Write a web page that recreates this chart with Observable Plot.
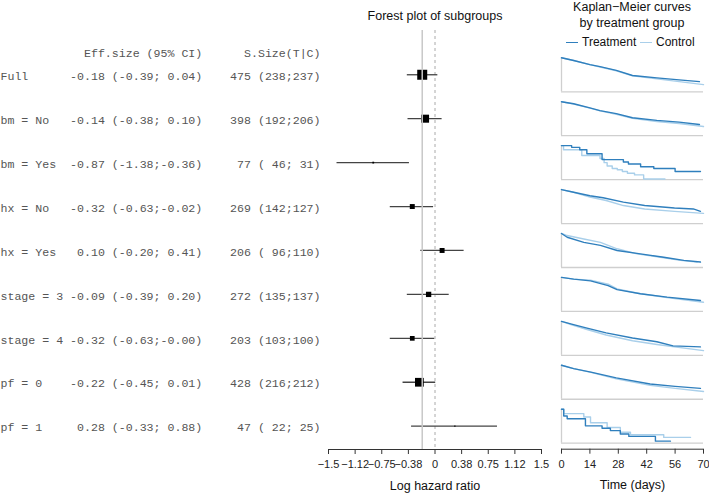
<!DOCTYPE html>
<html><head><meta charset="utf-8">
<script src="https://cdn.jsdelivr.net/npm/d3@7"></script>
<script src="https://cdn.jsdelivr.net/npm/@observablehq/plot@0.6"></script>
<style>
body{margin:0;background:#fff;}
#chart{position:relative;width:709px;height:495px;overflow:hidden;font-family:"Liberation Sans",Arial,sans-serif;}
#chart > svg{position:absolute;left:0;top:0;}
svg text{white-space:pre;}
.t{position:absolute;font-size:12.5px;color:#111;white-space:nowrap;transform:translate(-50%,-50%);}
.lg{position:absolute;top:42px;transform:translateY(-50%);font-size:12px;color:#111;white-space:nowrap;display:flex;align-items:center;}
.lg span.ln{display:inline-block;width:12px;height:0;border-top:1.6px solid;margin-right:4px;}
</style></head><body><div id="chart"></div>
<script>
// ---- Forest plot data ----
const labels = ["Full","bm = No","bm = Yes","hx = No","hx = Yes","stage = 3","stage = 4","pf = 0","pf = 1"];
const est = [-0.18,-0.14,-0.87,-0.32,0.10,-0.09,-0.32,-0.22,0.28];
const lo  = [-0.39,-0.38,-1.38,-0.63,-0.20,-0.39,-0.63,-0.45,-0.33];
const hi  = [0.04,0.10,-0.36,-0.02,0.41,0.20,-0.004,0.01,0.88];
const nAll = [475,398,77,269,206,272,203,428,47];
const nT = [238,192,46,142,96,135,103,216,22];
const nC = [237,206,31,127,110,137,100,212,25];
const colHeaders = ["Eff.size (95% CI)","S.Size(T|C)"];
const hrTicks = [-1.5,-1.125,-0.75,-0.375,0,0.375,0.75,1.125,1.5];
const hrTickLabels = ["\u22121.5","\u22121.12","\u22120.75","\u22120.38","0","0.38","0.75","1.12","1.5"];
const timeTicks = [0,14,28,42,56,70];

// ---- Kaplan-Meier curves [day, survival] ----
const kmFullT = [[0,1],[6,0.92],[14,0.80],[19,0.74],[27,0.63],[35,0.48],[47,0.41],[58,0.35],[68,0.30]];
const kmFullC = [[0,1],[6,0.92],[14,0.80],[19,0.73],[27,0.62],[35,0.47],[47,0.38],[58,0.30],[70,0.21]];
const kmBmNoT = [[0,1],[6,0.94],[14,0.82],[19,0.74],[27,0.65],[35,0.53],[47,0.45],[58,0.40],[68,0.33]];
const kmBmNoC = [[0,1],[6,0.93],[14,0.81],[19,0.73],[27,0.63],[35,0.51],[47,0.42],[58,0.36],[70,0.27]];
const kmBmYesT = [[0,1],[5,0.95],[9,0.88],[12.5,0.76],[20,0.59],[30.5,0.52],[33,0.46],[39,0.38],[45.5,0.33],[56,0.24],[68.5,0.24]];
const kmBmYesC = [[0,1],[1,0.88],[10,0.71],[19,0.62],[21,0.5],[22.5,0.4],[25,0.33],[27.5,0.29],[30,0.24],[32.5,0.19],[36,0.14],[40.5,0.02],[51,0.02]];
const kmHxNoT = [[0,1],[6,0.92],[14,0.82],[20.5,0.76],[30.5,0.63],[41,0.53],[55.7,0.46],[65,0.43],[68.5,0.36]];
const kmHxNoC = [[0,1],[6,0.92],[14,0.78],[22,0.68],[30.5,0.53],[41,0.43],[55.7,0.36],[70,0.30]];
const kmHxYesT = [[0,1],[2.8,0.89],[11,0.74],[19.2,0.65],[27.4,0.5],[38.9,0.40],[50.4,0.30],[60.3,0.21],[68.5,0.16]];
const kmHxYesC = [[0,1],[2.8,0.94],[11,0.84],[19.2,0.74],[27.4,0.55],[37.2,0.40],[48.8,0.30],[58.6,0.21],[66.8,0.16]];
const kmSt3T = [[0,1],[6,0.95],[14.3,0.9],[23,0.76],[27.4,0.64],[38.9,0.52],[52,0.42],[68.5,0.32]];
const kmSt3C = [[0,1],[6,0.95],[14.3,0.92],[23,0.8],[27.4,0.66],[38.9,0.52],[52,0.41],[70,0.27]];
const kmSt4T = [[0,1],[5,0.92],[12.6,0.8],[22,0.66],[35,0.51],[47,0.40],[55,0.28],[68.5,0.25]];
const kmSt4C = [[0,1],[5,0.9],[12.6,0.76],[22,0.6],[35,0.43],[47,0.32],[70,0.14]];
const kmPf0T = [[0,1],[6,0.9],[14.5,0.8],[27,0.63],[43.7,0.45],[56,0.38],[68.5,0.32]];
const kmPf0C = [[0,1],[6,0.9],[14.5,0.79],[27,0.6],[43.7,0.41],[56,0.32],[70,0.23]];
const kmPf1T = [[0,1],[1.1,0.8],[2.8,0.72],[11.8,0.51],[20,0.44],[24.1,0.37],[29,0.27],[33.2,0.2],[46.3,0.06],[53.7,0.06]];
const kmPf1C = [[0,1],[1.1,0.87],[11,0.77],[14.3,0.6],[22.5,0.46],[29,0.32],[34,0.25],[50.4,0.17],[63.6,0.17]];
const arms = ["Control","Treatment"];
const armColors = ["#a9cfea","#2f7fbd"];
const stepGroups = ["bm = Yes","pf = 1"];
const kmSeries = [
  ["Full",kmFullC,kmFullT],["bm = No",kmBmNoC,kmBmNoT],["bm = Yes",kmBmYesC,kmBmYesT],
  ["hx = No",kmHxNoC,kmHxNoT],["hx = Yes",kmHxYesC,kmHxYesT],["stage = 3",kmSt3C,kmSt3T],
  ["stage = 4",kmSt4C,kmSt4T],["pf = 0",kmPf0C,kmPf0T],["pf = 1",kmPf1C,kmPf1T]
];

// ---- build tables ----
const f2 = v => v.toFixed(2).padStart(5);
const rows = labels.map((label,i) => {
  const se = (hi[i]-lo[i])/(2*1.96);
  return {
    label, est: est[i], lo: lo[i], hi: hi[i], w: 1/(se*se),
    line: label.padEnd(10) + f2(est[i]) + " (" + f2(lo[i]) + ";" + f2(hi[i]) + ")    " +
          String(nAll[i]).padStart(3) + " (" + String(nT[i]).padStart(3) + ";" + String(nC[i]).padStart(3) + ")"
  };
});
const headerLine = " ".repeat(12) + colHeaders[0] + " ".repeat(6) + colHeaders[1];
const kmRows = [];
for (const [g, c, t] of kmSeries) {
  for (const [d, s] of c) kmRows.push({group: g, arm: arms[0], day: d, s});
  for (const [d, s] of t) kmRows.push({group: g, arm: arms[1], day: d, s});
}
const kmStep = kmRows.filter(d => stepGroups.includes(d.group));
const kmSmooth = kmRows.filter(d => !stepGroups.includes(d.group));

const H = 495, W = 709;
const yRow = {type: "point", domain: labels, padding: 0.769, align: 0.655, round: false, axis: null};
const baseStyle = {background: "transparent", fontFamily: "'Liberation Sans', Arial, sans-serif", fontSize: "11px", color: "#222", overflow: "visible"};
const mono = "'Liberation Mono', 'Courier New', monospace";
const chart = document.getElementById("chart");

// ---- left text table ----
const textPlot = Plot.plot({
  width: 330, height: H, marginLeft: 0, marginRight: 0, marginTop: 30, marginBottom: 46,
  style: baseStyle, y: yRow,
  marks: [
    Plot.text([headerLine], {text: d => d, frameAnchor: "top-left", textAnchor: "start", dy: 18, fontFamily: mono, fontSize: 11.6, fill: "#555"}),
    Plot.text(rows, {y: "label", text: "line", frameAnchor: "left", textAnchor: "start", dy: 1.5, fontFamily: mono, fontSize: 11.6, fill: "#555"})
  ]
});
chart.appendChild(textPlot);

// ---- forest plot ----
const tickLabelMap = new Map(hrTicks.map((t,i) => [t, hrTickLabels[i]]));
const forest = Plot.plot({
  width: W, height: H, marginLeft: 328, marginRight: 168, marginTop: 30, marginBottom: 46,
  style: baseStyle,
  x: {domain: [hrTicks[0], hrTicks[hrTicks.length-1]]},
  y: yRow,
  r: {type: "linear", domain: [0, d3.max(rows, d => d.w)], range: [0, 10/Math.sqrt(Math.PI)]},
  marks: [
    Plot.ruleX([0], {stroke: "#aaa", strokeDasharray: "3,3", strokeWidth: 1}),
    Plot.ruleY(rows, {y: "label", x1: "lo", x2: "hi", stroke: "#444", strokeWidth: 1.3}),
    Plot.dot(rows, {x: "est", y: "label", r: "w", symbol: "square", fill: "#000", stroke: null}),
    Plot.ruleX([est[0]], {stroke: "#c8c8c8", strokeWidth: 1.5}),
    Plot.frame({anchor: "bottom", stroke: "#333"}),
    Plot.axisX(hrTicks, {tickFormat: d => tickLabelMap.get(d), tickSize: 5, tickPadding: 6, label: null, fontSize: 11, stroke: "#333"}),
    Plot.text(["Forest plot of subgroups"], {text: d => d, frameAnchor: "top", dy: -19, fontSize: 12.5, fill: "#111"}),
    Plot.text(["Log hazard ratio"], {text: d => d, frameAnchor: "bottom", dy: 40, fontSize: 12.5, fill: "#111"})
  ]
});
chart.appendChild(forest);

// ---- Kaplan-Meier small multiples ----
const km = Plot.plot({
  width: W, height: H, marginLeft: 561, marginRight: 6, marginTop: 57.3, marginBottom: 46.3,
  style: baseStyle,
  x: {domain: [timeTicks[0], timeTicks[timeTicks.length-1]]},
  y: {domain: [0, 1], insetBottom: 6, axis: null},
  fy: {domain: labels, paddingInner: 0.0895, paddingOuter: 0, round: false, axis: null},
  color: {domain: arms, range: armColors},
  marks: [
    Plot.ruleX([0], {stroke: "#cfcfcf", strokeWidth: 1.3, insetBottom: 6}),
    Plot.ruleY([0], {stroke: "#cfcfcf", strokeWidth: 1.3}),
    Plot.line(kmSmooth, {x: "day", y: "s", z: "arm", stroke: "arm", fy: "group", strokeWidth: 1.4}),
    Plot.line(kmStep, {x: "day", y: "s", z: "arm", stroke: "arm", fy: "group", strokeWidth: 1.4, curve: "step-after"}),
    Plot.ruleY([0], {facetAnchor: "bottom", dy: 6, stroke: "#333"}),
    Plot.axisX(timeTicks, {tickSize: 5, tickPadding: 6, label: null, fontSize: 11, stroke: "#333"}),
    Plot.text(["Time (days)"], {text: d => d, frameAnchor: "bottom", facetAnchor: "bottom", dy: 40, fontSize: 12.5, fill: "#111"})
  ]
});
chart.appendChild(km);

// ---- KM titles and legend ----
const addText = (txt, x, y) => { const d = document.createElement("div"); d.className = "t"; d.textContent = txt; d.style.left = x + "px"; d.style.top = y + "px"; chart.appendChild(d); };
addText("Kaplan\u2212Meier curves", 632, 7);
addText("by treatment group", 632, 23);
const legendItems = [[arms[1], armColors[1], 566], [arms[0], armColors[0], 640]];
for (const [name, col, x] of legendItems) {
  const d = document.createElement("div"); d.className = "lg"; d.style.left = x + "px";
  const l = document.createElement("span"); l.className = "ln"; l.style.borderTopColor = col;
  d.appendChild(l); d.appendChild(document.createTextNode(name)); chart.appendChild(d);
}
</script>
</body></html>
